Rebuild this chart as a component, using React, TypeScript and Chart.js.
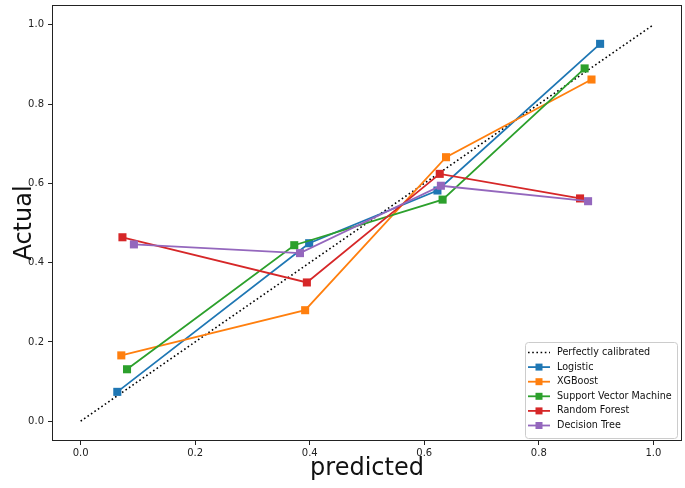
import React, { useEffect, useRef } from "react";
import { Chart, registerables } from "chart.js";

Chart.register(...registerables);

const seriesNames = ["Logistic", "XGBoost", "Support Vector Machine", "Random Forest", "Decision Tree"];
const seriesColors = ["#1f77b4", "#ff7f0e", "#2ca02c", "#d62728", "#9467bd"];

const perfectX = [0, 1];
const perfectY = [0, 1];
const logisticX = [0.064, 0.399, 0.623, 0.907];
const logisticY = [0.074, 0.449, 0.582, 0.952];
const xgbX = [0.071, 0.392, 0.638, 0.892];
const xgbY = [0.166, 0.28, 0.666, 0.862];
const svmX = [0.081, 0.373, 0.632, 0.88];
const svmY = [0.131, 0.444, 0.559, 0.89];
const rfX = [0.073, 0.395, 0.627, 0.872];
const rfY = [0.464, 0.35, 0.624, 0.562];
const dtX = [0.093, 0.383, 0.629, 0.886];
const dtY = [0.446, 0.424, 0.594, 0.555];

const xTicks = [0, 0.2, 0.4, 0.6, 0.8, 1.0];
const yTicks = [0, 0.2, 0.4, 0.6, 0.8, 1.0];

const xTitle = "predicted";
const yTitle = "Actual";
const perfectLabel = "Perfectly calibrated";

const seriesX = [logisticX, xgbX, svmX, rfX, dtX];
const seriesY = [logisticY, xgbY, svmY, rfY, dtY];

const TICK_FONT = "'DejaVu Sans', sans-serif";
const TITLE_FONT = "'DejaVu Sans', sans-serif";

const zip = (xs: number[], ys: number[]) => xs.map((x, i) => ({ x, y: ys[i] }));

const decorPlugin = {
  id: "decor",
  afterDraw(chart: any) {
    const ctx = chart.ctx as CanvasRenderingContext2D;
    const ca = chart.chartArea;
    ctx.save();
    // frame
    ctx.strokeStyle = "#222";
    ctx.lineWidth = 1;
    ctx.strokeRect(Math.round(ca.left) + 0.5, Math.round(ca.top) + 0.5, Math.round(ca.right - ca.left) - 1, Math.round(ca.bottom - ca.top) - 1);

    // titles
    ctx.fillStyle = "#111";
    ctx.font = `24px ${TITLE_FONT}`;
    ctx.textAlign = "center";
    ctx.textBaseline = "alphabetic";
    ctx.fillText(xTitle, (ca.left + ca.right) / 2, 475);
    ctx.save();
    ctx.translate(31, (ca.top + ca.bottom) / 2);
    ctx.rotate(-Math.PI / 2);
    ctx.fillText(yTitle, 0, 0);
    ctx.restore();

    // legend
    const bx = 525.5, by = 342.5, bw = 152, bh = 96;
    ctx.fillStyle = "rgba(255,255,255,0.85)";
    ctx.strokeStyle = "#cccccc";
    ctx.lineWidth = 1;
    ctx.beginPath();
    const r = 3;
    ctx.moveTo(bx + r, by);
    ctx.lineTo(bx + bw - r, by);
    ctx.arcTo(bx + bw, by, bx + bw, by + r, r);
    ctx.lineTo(bx + bw, by + bh - r);
    ctx.arcTo(bx + bw, by + bh, bx + bw - r, by + bh, r);
    ctx.lineTo(bx + r, by + bh);
    ctx.arcTo(bx, by + bh, bx, by + bh - r, r);
    ctx.lineTo(bx, by + r);
    ctx.arcTo(bx, by, bx + r, by, r);
    ctx.closePath();
    ctx.fill();
    ctx.stroke();

    const rowH = 14.6;
    const y0 = 352.5;
    const hx0 = 528, hx1 = 550, tx = 557;
    ctx.font = `9.6px ${TICK_FONT}`;
    ctx.textAlign = "left";
    ctx.textBaseline = "middle";
    // perfectly calibrated
    ctx.strokeStyle = "#000";
    ctx.lineWidth = 1.6;
    ctx.setLineDash([1.6, 2.6]);
    ctx.beginPath();
    ctx.moveTo(hx0, y0);
    ctx.lineTo(hx1, y0);
    ctx.stroke();
    ctx.setLineDash([]);
    ctx.fillStyle = "#111";
    ctx.fillText(perfectLabel, tx, y0);
    seriesNames.forEach((name, i) => {
      const y = y0 + rowH * (i + 1);
      ctx.strokeStyle = seriesColors[i];
      ctx.lineWidth = 1.8;
      ctx.beginPath();
      ctx.moveTo(hx0, y);
      ctx.lineTo(hx1, y);
      ctx.stroke();
      ctx.fillStyle = seriesColors[i];
      ctx.fillRect((hx0 + hx1) / 2 - 3.5, y - 3.5, 7, 7);
      ctx.fillStyle = "#111";
      ctx.fillText(name, tx, y);
    });
    ctx.restore();
  },
};

export default function App() {
  const ref = useRef<HTMLCanvasElement | null>(null);
  useEffect(() => {
    if (!ref.current) return;
    const datasets: any[] = [
      {
        label: perfectLabel,
        data: zip(perfectX, perfectY),
        showLine: true,
        borderColor: "#000",
        borderWidth: 1.6,
        borderDash: [1.6, 2.6],
        pointRadius: 0,
        order: 10,
      },
      ...seriesNames.map((name, i) => ({
        label: name,
        data: zip(seriesX[i], seriesY[i]),
        showLine: true,
        borderColor: seriesColors[i],
        backgroundColor: seriesColors[i],
        borderWidth: 1.8,
        pointStyle: "rect",
        pointRadius: 5.7,
        pointBorderWidth: 0,
        pointBackgroundColor: seriesColors[i],
        order: 5 - i,
      })),
    ];
    const tickCommon = {
      color: "#222",
      font: { family: TICK_FONT, size: 10 },
    };
    const chart = new Chart(ref.current, {
      type: "scatter",
      data: { datasets },
      options: {
        animation: false,
        responsive: false,
        maintainAspectRatio: false,
        layout: { autoPadding: false, padding: { left: 0, right: 3, top: 5, bottom: 0 } },
        plugins: { legend: { display: false }, tooltip: { enabled: false } },
        scales: {
          x: {
            type: "linear",
            min: -0.05,
            max: 1.05,
            afterBuildTicks: (s: any) => {
              s.ticks = xTicks.map((v) => ({ value: v }));
            },
            afterFit: (s: any) => {
              s.height = 47;
              s.paddingLeft = 0;
              s.paddingRight = 0;
            },
            ticks: {
              ...tickCommon,
              padding: 2,
              maxRotation: 0,
              callback: (v: any) => Number(v).toFixed(1),
            },
            grid: { drawOnChartArea: false, drawTicks: true, tickLength: 4, color: "#222" },
            border: { display: false },
          },
          y: {
            type: "linear",
            min: -0.05,
            max: 1.05,
            afterBuildTicks: (s: any) => {
              s.ticks = yTicks.map((v) => ({ value: v }));
            },
            afterFit: (s: any) => {
              s.width = 52;
              s.paddingTop = 0;
              s.paddingBottom = 0;
            },
            ticks: {
              ...tickCommon,
              padding: 4,
              callback: (v: any) => Number(v).toFixed(1),
            },
            grid: { drawOnChartArea: false, drawTicks: true, tickLength: 4, color: "#222" },
            border: { display: false },
          },
        },
      },
      plugins: [decorPlugin],
    } as any);
    return () => chart.destroy();
  }, []);
  return (
    <div style={{ position: "fixed", left: 0, top: 0, width: 685, height: 488, background: "#fff" }}>
      <canvas ref={ref} width={685} height={488} style={{ display: "block" }} />
    </div>
  );
}
